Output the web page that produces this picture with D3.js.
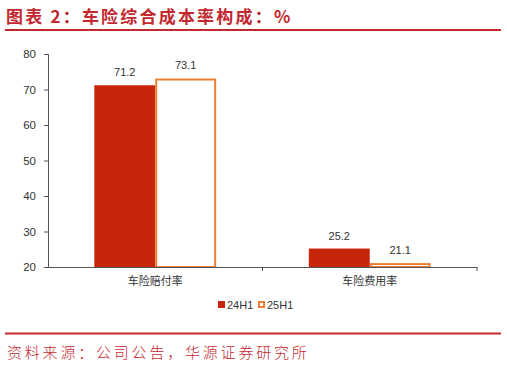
<!DOCTYPE html>
<html>
<head>
<meta charset="utf-8">
<script src="https://cdn.jsdelivr.net/npm/d3@7"></script>
<style>
  body { margin: 0; background: #fff; }
  svg { display: block; }
</style>
</head>
<body>
<div id="chart"></div>
<script>
const categories = ['车险赔付率', '车险费用率'];
const seriesNames = ['24H1', '25H1'];
const values24H1 = [71.2, 25.2];
const values25H1 = [73.1, 21.1];
const yTicks = [20, 30, 40, 50, 60, 70, 80];

const W = 507, H = 367;
const red = '#c8260b', orange = '#ec7f35', titleRed = '#c3282f';
const svg = d3.select('#chart').append('svg').attr('width', W).attr('height', H);

// title + rules
svg.append('text').attr('x', 6).attr('y', 23)
  .attr('font-family', '"Noto Sans CJK SC"').attr('font-weight', 'bold')
  .attr('font-size', 17).attr('letter-spacing', 2.2)
  .attr('fill', titleRed).text('图表 2：车险综合成本率构成：%');
svg.append('line').attr('x1', 5).attr('x2', 501).attr('y1', 30).attr('y2', 30)
  .attr('stroke', titleRed).attr('stroke-width', 2);
svg.append('line').attr('x1', 5).attr('x2', 501).attr('y1', 333.5).attr('y2', 333.5)
  .attr('stroke', titleRed).attr('stroke-width', 2);
svg.append('text').attr('x', 7).attr('y', 358)
  .attr('font-family', '"Noto Sans CJK SC"').attr('font-weight', 300)
  .attr('font-size', 15).attr('letter-spacing', 2.8)
  .attr('fill', titleRed).text('资料来源：公司公告，华源证券研究所');

const x0 = 48, x1 = 477, yTop = 54, yBot = 267;
const x = d3.scaleBand().domain(categories).range([x0, x1]).paddingInner(0).paddingOuter(0);
const xs = d3.scaleBand().domain(seriesNames).range([0, x.bandwidth()]).paddingInner(0).paddingOuter(0.76);
const y = d3.scaleLinear().domain([20, 80]).range([yBot, yTop]);

const font = '"Liberation Sans", Arial, sans-serif';

// y axis
const ya = svg.append('g').attr('transform', `translate(${x0},0)`)
  .call(d3.axisLeft(y).tickValues(yTicks).tickSize(4).tickPadding(8));
ya.select('.domain').attr('stroke', '#555');
ya.selectAll('line').attr('stroke', '#555');
ya.selectAll('text').attr('font-family', font).attr('font-size', 11.5).attr('fill', '#333');

const rows = categories.map((c, i) => ({ cat: c, vals: [
  { s: '24H1', v: values24H1[i] }, { s: '25H1', v: values25H1[i] }] }));

const g = svg.append('g').selectAll('g').data(rows).join('g')
  .attr('transform', d => `translate(${x(d.cat)},0)`);

g.selectAll('rect').data(d => d.vals).join('rect')
  .attr('x', d => xs(d.s) + (d.s === '25H1' ? 1 : 0))
  .attr('y', d => y(d.v) + (d.s === '25H1' ? 1 : 0))
  .attr('width', d => xs.bandwidth() - (d.s === '25H1' ? 2 : 0))
  .attr('height', d => yBot - y(d.v) - (d.s === '25H1' ? 1 : 0))
  .attr('fill', d => d.s === '24H1' ? red : '#fff')
  .attr('stroke', d => d.s === '24H1' ? 'none' : orange)
  .attr('stroke-width', 2);

g.selectAll('text').data(d => d.vals).join('text')
  .attr('x', d => xs(d.s) + xs.bandwidth() / 2)
  .attr('y', d => y(d.v) - 9)
  .attr('text-anchor', 'middle').attr('font-family', font).attr('font-size', 11)
  .attr('fill', '#333').text(d => d.v.toFixed(1));

// x axis
const xa = svg.append('g').attr('transform', `translate(0,${yBot})`)
  .call(d3.axisBottom(x).tickSize(0).tickPadding(10));
xa.select('.domain').attr('stroke', '#555');
xa.selectAll('text').attr('font-family', '"Noto Sans CJK SC"').attr('font-size', 11).attr('fill', '#333');
svg.append('g').selectAll('line').data([x0 + x.bandwidth(), x1]).join('line')
  .attr('x1', d => d).attr('x2', d => d).attr('y1', yBot).attr('y2', yBot + 4)
  .attr('stroke', '#555');

// legend
const legend = [{ n: '24H1', x: 218 }, { n: '25H1', x: 258 }];
const lg = svg.append('g').selectAll('g').data(legend).join('g')
  .attr('transform', d => `translate(${d.x},${301})`);
lg.append('rect').attr('x', d => d.n === '25H1' ? 1 : 0).attr('y', d => d.n === '25H1' ? 1 : 0)
  .attr('width', d => d.n === '25H1' ? 5 : 7).attr('height', d => d.n === '25H1' ? 5 : 7)
  .attr('fill', d => d.n === '24H1' ? red : '#fff')
  .attr('stroke', d => d.n === '24H1' ? 'none' : orange).attr('stroke-width', 2);
lg.append('text').attr('x', 9).attr('y', 7.5).attr('font-family', font).attr('font-size', 11)
  .attr('fill', '#333').text(d => d.n);
</script>
</body>
</html>
